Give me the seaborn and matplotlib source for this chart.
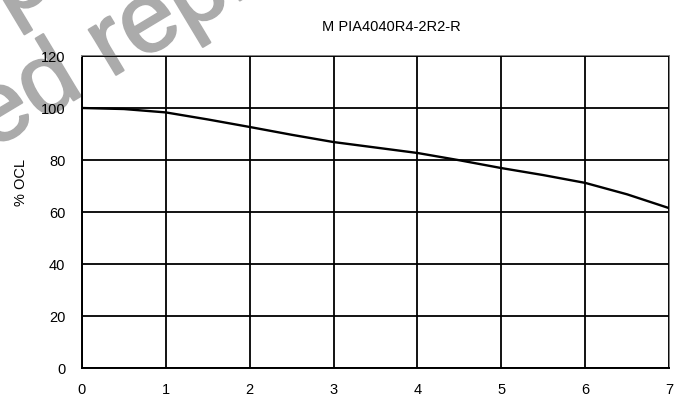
import matplotlib
matplotlib.use("Agg")
import matplotlib.pyplot as plt
import matplotlib.patheffects as pe
import seaborn as sns
import pandas as pd

# curve (% of open-circuit inductance vs current)
current = [0, 0.5, 1, 1.5, 2, 2.5, 3, 3.5, 4, 4.5, 5, 5.5, 6, 6.5, 7]
ocl_pct = [100, 99.6, 98.3, 95.6, 92.7, 89.7, 86.9, 84.8, 82.7, 79.9, 76.9, 74.2, 71.2, 66.8, 61.5]

x_ticks = [0, 1, 2, 3, 4, 5, 6, 7]
y_ticks = [0, 20, 40, 60, 80, 100, 120]
title = "M PIA4040R4-2R2-R"
y_label = "% OCL"

df = pd.DataFrame({"current": current, "ocl": ocl_pct})

sns.set_theme(style="white")
plt.rcParams["font.family"] = ["Liberation Sans", "DejaVu Sans"]

W, H = 674, 404
fig = plt.figure(figsize=(W / 100, H / 100), dpi=100)
fig.patch.set_facecolor("white")

# watermark behind the chart, mostly cut off by the figure edge
wm = dict(rotation=31, rotation_mode="anchor", va="baseline", fontsize=72,
          color="#ababab", zorder=0,
          path_effects=[pe.withStroke(linewidth=1.5, foreground="#ababab")])
fig.text(-9 / W, 1 - 150 / H, "Discontinu", ha="right", **wm)
fig.text(-9 / W, 1 - 150 / H, "ed replaced by", ha="left", **wm)
fig.text(8 / W, 1 - 20 / H, "Sto", ha="right", **wm)
fig.text(8 / W, 1 - 20 / H, "p production", ha="left", **wm)

ax = fig.add_axes([82 / W, 1 - 368 / H, (669 - 82) / W, (368 - 56) / H])
ax.set_facecolor("none")
ax.set_zorder(1)

sns.lineplot(data=df, x="current", y="ocl", ax=ax, color="black", linewidth=1.7, zorder=3)

ax.set_xlim(0, 7)
ax.set_ylim(0, 120)
ax.set_xticks(x_ticks)
ax.set_yticks(y_ticks)
ax.grid(True, color="black", linewidth=1.3)
ax.set_axisbelow(False)

for side in ["left", "bottom"]:
    ax.spines[side].set_color("black")
    ax.spines[side].set_linewidth(1.4)
for side in ["top", "right"]:
    ax.spines[side].set_color("#808080")
    ax.spines[side].set_linewidth(1.4)

ax.tick_params(axis="both", length=0, labelsize=10.5, colors="black")
ax.tick_params(axis="y", pad=12)
ax.tick_params(axis="x", pad=10.8)

ax.set_xlabel("")
ax.set_ylabel(y_label, fontsize=10.5, color="black")
ax.yaxis.set_label_coords((28 - 82) / (669 - 82), (368 - 182) / (368 - 56))

fig.text(391 / W, 1 - 27 / H, title, ha="center", va="center", fontsize=10.5, color="black")

fig.savefig("out.png", dpi=100, facecolor=fig.get_facecolor())
plt.close(fig)
